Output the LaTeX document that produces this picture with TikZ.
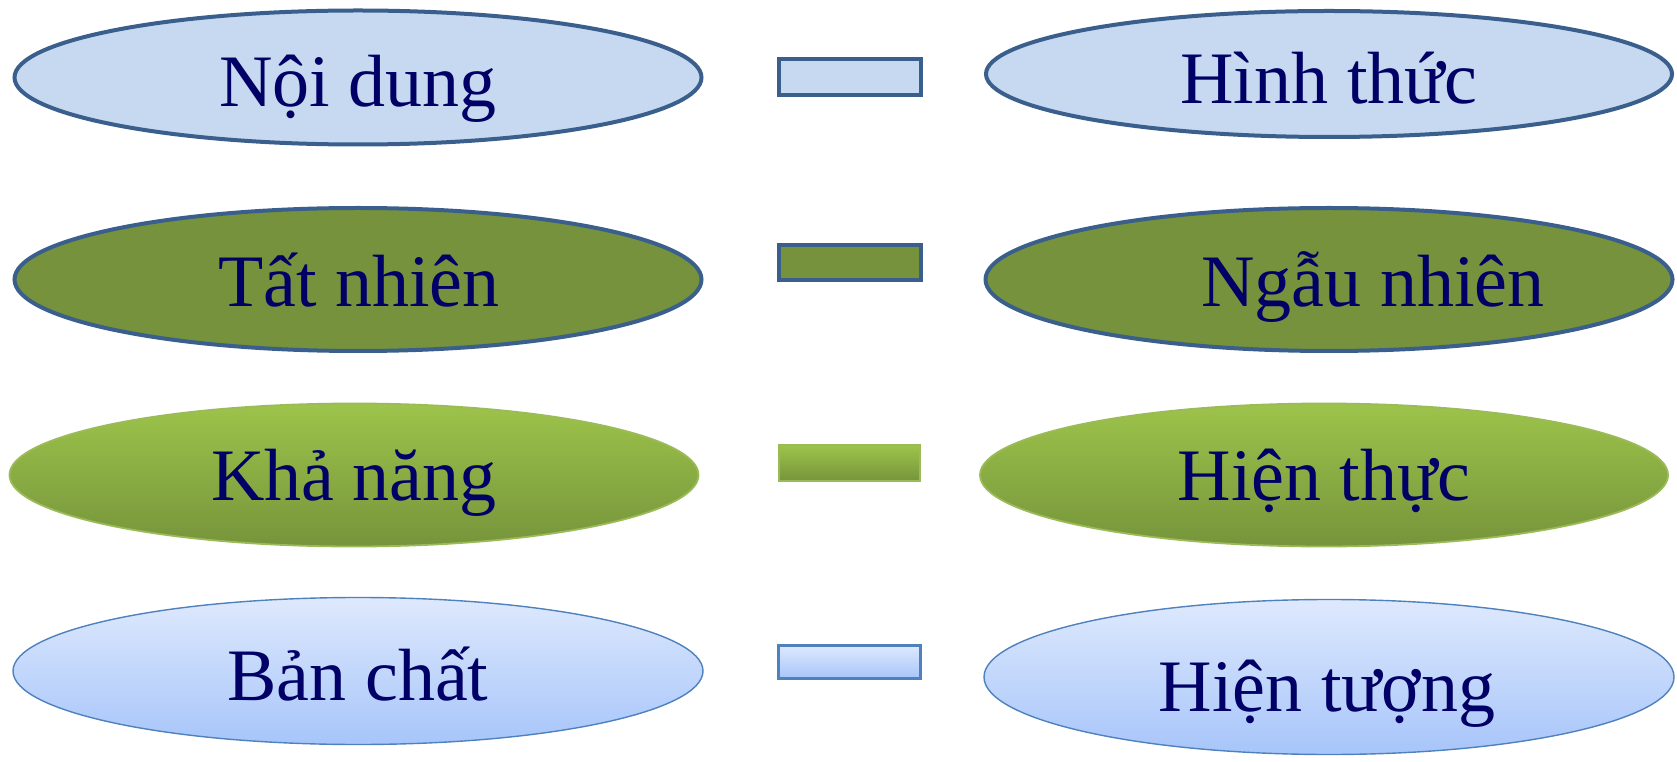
\documentclass[tikz,border=0pt]{standalone}
\usepackage{fontspec}
\setmainfont{Liberation Serif}
\usetikzlibrary{shapes.geometric,calc}
\definecolor{bord}{HTML}{3A5F8C}
\definecolor{lblue}{HTML}{C6D9F1}
\definecolor{olive}{HTML}{76923C}
\definecolor{gtop}{HTML}{9DC44B}
\definecolor{gbot}{HTML}{76943B}
\definecolor{gline}{HTML}{9BBB59}
\definecolor{btop}{HTML}{DEE9FD}
\definecolor{bbot}{HTML}{A7C5FA}
\definecolor{bline}{HTML}{4F81BD}
\definecolor{txtc}{HTML}{000066}
\tikzset{
  oval/.style={ellipse, inner sep=0pt, minimum width=#1},
  rowA/.style={draw=bord, line width=4pt, fill=lblue},
  rowB/.style={draw=bord, line width=4pt, fill=olive},
  rowC/.style={draw=gline, line width=1.8pt, top color=gtop, bottom color=gbot},
  rowD/.style={draw=bline, line width=1.4pt, top color=btop, bottom color=bbot},
  rowDr/.style={draw=bline, line width=3pt, top color=btop, bottom color=bbot},
  lbl/.style={text=txtc, font=\fontsize{74}{80}\selectfont, anchor=base, inner sep=0pt},
  bar/.style={rectangle, inner sep=0pt}
}
\begin{document}
\begin{tikzpicture}[x=1pt,y=1pt]
\useasboundingbox (0,0) rectangle (1677,761);
% row 1
\node[oval=687pt, minimum height=134pt, rowA] (nd) at (358,683.5) {};
\node[oval=686pt, minimum height=126pt, rowA] (ht) at (1329,687) {};
\node[bar, rowA, minimum width=142pt, minimum height=36pt] (r1) at (849.5,683.5) {};
\node[lbl] (tnd) at (358,654) {Nội dung};
\node[lbl] (tht) at (1329,657) {Hình thức};
% row 2
\node[oval=687pt, minimum height=143pt, rowB] (tn) at (358,481.5) {};
\node[oval=687pt, minimum height=143pt, rowB] (nn) at (1329,481.5) {};
\node[bar, rowB, minimum width=142pt, minimum height=35pt] (r2) at (849.5,498) {};
\node[lbl] (ttn) at (359,454) {Tất nhiên};
\node[lbl] (tnn) at (1373,454) {Ngẫu nhiên};
% row 3
\node[oval=689pt, minimum height=143pt, rowC] (kn) at (354,286) {};
\node[oval=688pt, minimum height=143pt, rowC] (hth) at (1324,286) {};
\node[bar, rowC, minimum width=141pt, minimum height=36pt] (r3) at (849.5,298) {};
\node[lbl] (tkn) at (354,261) {Khả năng};
\node[lbl] (thth) at (1324,261) {Hiện thực};
% row 4
\node[oval=690pt, minimum height=147pt, rowD] (bc) at (358,90) {};
\node[oval=690pt, minimum height=155pt, rowD] (htg) at (1329,84) {};
\node[bar, rowDr, minimum width=142pt, minimum height=33pt] (r4) at (849.5,99) {};
\node[lbl] (tbc) at (358,61) {Bản chất};
\node[lbl] (thtg) at (1327,50) {Hiện tượng};
\end{tikzpicture}
\end{document}
